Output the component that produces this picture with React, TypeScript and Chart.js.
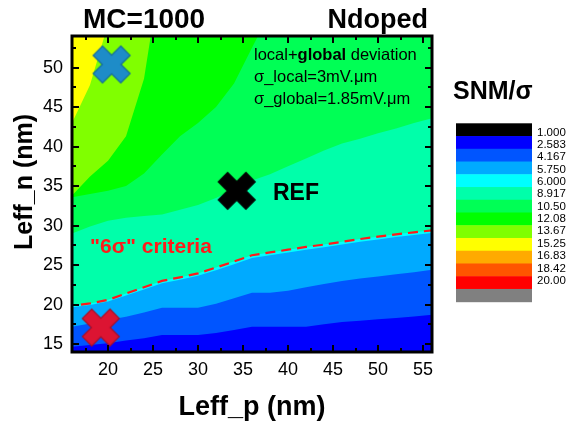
import React, { useEffect, useRef } from 'react';
import { Chart, registerables } from 'chart.js';

Chart.register(...registerables);

const FONT = '"Liberation Sans", Arial, Helvetica, sans-serif';

// Leff_p grid (nm)
const leffP = [16, 18, 20, 22, 24, 26, 28, 30, 32, 34, 36, 38, 40, 42, 44, 46, 48, 50, 52, 54, 56];

// Leff_n (nm) of each SNM/sigma contour level along the Leff_p grid (70 = above the plotted window)
const contour2583 = [14.65, 14.9, 15.1, 15.45, 15.75, 16.15, 16.15, 16.15, 16.4, 16.8, 17.2, 17.2, 17.2, 17.2, 17.5, 17.8, 17.95, 18.15, 18.3, 18.5, 18.7];
const contour4167 = [17.2, 17.6, 18.05, 18.45, 19.0, 19.6, 19.6, 19.6, 20.1, 20.8, 21.5, 21.5, 21.75, 22.2, 22.6, 23.0, 23.3, 23.55, 23.85, 24.1, 24.4];
const contour5750 = [19.65, 19.95, 20.4, 21.15, 21.9, 22.7, 23.15, 23.65, 24.35, 25.1, 25.9, 26.25, 26.6, 26.95, 27.25, 27.6, 27.95, 28.25, 28.55, 28.8, 29.05];
const contour6000 = [19.85, 20.15, 20.6, 21.4, 22.2, 23.0, 23.45, 23.95, 24.7, 25.45, 26.25, 26.6, 26.95, 27.3, 27.6, 27.95, 28.3, 28.6, 28.9, 29.15, 29.4];
const contour8917 = [29.0, 29.9, 30.6, 31.0, 31.2, 31.4, 32.0, 32.6, 33.5, 34.6, 35.7, 36.5, 37.5, 38.5, 39.5, 40.4, 41.0, 41.7, 42.3, 43.0, 43.6];
const contour1050 = [33.6, 34.0, 34.4, 35.0, 36.6, 39.0, 41.3, 43.0, 45.0, 48.0, 52.5, 57, 70, 70, 70, 70, 70, 70, 70, 70, 70];
const contour1208 = [33.8, 36.2, 38.2, 41.3, 48.6, 63, 70, 70, 70, 70, 70, 70, 70, 70, 70, 70, 70, 70, 70, 70, 70];
const contour1367 = [43.0, 47.8, 55.5, 62, 70, 70, 70, 70, 70, 70, 70, 70, 70, 70, 70, 70, 70, 70, 70, 70, 70];

// "6 sigma" criteria dashed line
const criteriaP = [17, 18, 20, 22, 24, 26, 28, 30, 32, 34, 36, 38, 40, 42, 44, 46, 48, 50, 52, 54, 56];
const criteriaN = [20.0, 20.15, 20.6, 21.4, 22.2, 23.0, 23.45, 23.95, 24.7, 25.45, 26.25, 26.6, 26.95, 27.3, 27.6, 27.95, 28.3, 28.6, 28.9, 29.15, 29.4];

// markers (blue, REF black, red)
const markerP = [20.4, 34.3, 19.2];
const markerN = [50.4, 34.4, 17.1];
const markerFill = ['#1E8CC8', '#000000', '#DC1432'];
const markerEdge = ['#136A99', '#000000', '#A80E26'];

const xTicks = [20, 25, 30, 35, 40, 45, 50, 55];
const yTicks = [15, 20, 25, 30, 35, 40, 45, 50];

const levelLabels = ['1.000', '2.583', '4.167', '5.750', '6.000', '8.917', '10.50', '12.08', '13.67', '15.25', '16.83', '18.42', '20.00'];
const levelColors = ['#000000', '#0000FF', '#0055FF', '#00AAFF', '#00FFFF', '#00FFAA', '#00FF55', '#00FF00', '#80FF00', '#FFFF00', '#FFAA00', '#FF5500', '#FF0000', '#808080'];

function makeCross(fill: string, edge: string): HTMLCanvasElement {
  const S = 44;
  const c = document.createElement('canvas');
  c.width = S;
  c.height = S;
  const g = c.getContext('2d')!;
  g.translate(S / 2, S / 2);
  g.rotate(Math.PI / 4);
  const L = 19.5;
  const w = 6.6;
  g.beginPath();
  g.moveTo(-w, -L); g.lineTo(w, -L); g.lineTo(w, -w); g.lineTo(L, -w); g.lineTo(L, w);
  g.lineTo(w, w); g.lineTo(w, L); g.lineTo(-w, L); g.lineTo(-w, w); g.lineTo(-L, w);
  g.lineTo(-L, -w); g.lineTo(-w, -w); g.closePath();
  g.fillStyle = fill;
  g.fill();
  g.lineWidth = 1.2;
  g.strokeStyle = edge;
  g.stroke();
  return c;
}

const decor = {
  id: 'decor',
  beforeDatasetsDraw(chart: any) {
    const { ctx, chartArea: a } = chart;
    ctx.save();
    ctx.fillStyle = levelColors[9];
    ctx.fillRect(a.left, a.top, a.right - a.left, a.bottom - a.top);
    ctx.restore();
  },
  afterDraw(chart: any) {
    const { ctx, chartArea: a, scales } = chart;
    const xs = scales.x;
    const ys = scales.y;
    ctx.save();
    ctx.strokeStyle = '#000';
    ctx.lineWidth = 2;
    const seg = (x1: number, y1: number, x2: number, y2: number) => {
      ctx.beginPath();
      ctx.moveTo(x1, y1);
      ctx.lineTo(x2, y2);
      ctx.stroke();
    };
    for (let v = 17.5; v < 56; v += 2.5) {
      const len = v % 5 === 0 ? 7 : 4;
      const px = Math.round(xs.getPixelForValue(v));
      seg(px, a.bottom, px, a.bottom - len);
      seg(px, a.top, px, a.top + len);
    }
    for (let v = 15; v < 54; v += 2.5) {
      const len = v % 5 === 0 ? 7 : 4;
      const py = Math.round(ys.getPixelForValue(v));
      seg(a.left, py, a.left + len, py);
      seg(a.right, py, a.right - len, py);
    }
    ctx.lineWidth = 3;
    ctx.strokeRect(a.left, a.top, a.right - a.left, a.bottom - a.top);

    // titles
    ctx.fillStyle = '#000';
    ctx.textBaseline = 'alphabetic';
    ctx.font = `bold 28px ${FONT}`;
    ctx.textAlign = 'left';
    ctx.fillText('MC=1000', 83, 28);
    ctx.font = `bold 27px ${FONT}`;
    ctx.textAlign = 'right';
    ctx.fillText('Ndoped', 428, 28);

    // in-plot notes
    ctx.textAlign = 'left';
    let x = 254;
    ctx.font = `16.5px ${FONT}`;
    ctx.fillText('local+', x, 60);
    x += ctx.measureText('local+').width;
    ctx.font = `bold 16.5px ${FONT}`;
    ctx.fillText('global', x, 60);
    x += ctx.measureText('global').width;
    ctx.font = `16.5px ${FONT}`;
    ctx.fillText(' deviation', x, 60);
    ctx.fillText('\u03c3_local=3mV.\u03bcm', 254, 82);
    ctx.fillText('\u03c3_global=1.85mV.\u03bcm', 254, 104);

    ctx.font = `bold 23px ${FONT}`;
    ctx.fillText('REF', 273, 200);

    ctx.fillStyle = '#FF1A1A';
    ctx.font = `bold 21px ${FONT}`;
    ctx.fillText('"6\u03c3" criteria', 90, 253);

    // axis titles
    ctx.fillStyle = '#000';
    ctx.font = `bold 27px ${FONT}`;
    ctx.textAlign = 'center';
    ctx.fillText('Leff_p (nm)', (a.left + a.right) / 2, 415);
    ctx.save();
    ctx.translate(32, 182);
    ctx.rotate(-Math.PI / 2);
    ctx.font = `bold 25px ${FONT}`;
    ctx.fillText('Leff_n (nm)', 0, 0);
    ctx.restore();

    // colour legend
    ctx.textAlign = 'left';
    ctx.font = `bold 25px ${FONT}`;
    ctx.fillText('SNM/\u03c3', 453, 99);
    const lx = 456;
    const lw = 76;
    const top = 123.3;
    const bh = (301.7 - 123.3) / levelColors.length;
    levelColors.forEach((c, i) => {
      ctx.fillStyle = c;
      ctx.fillRect(lx, top + i * bh, lw, bh + 0.5);
    });
    ctx.fillStyle = '#000';
    ctx.font = `11.5px ${FONT}`;
    ctx.textBaseline = 'middle';
    levelLabels.forEach((t, i) => {
      ctx.fillText(t, 537, 132.5 + i * 12.35);
    });
    ctx.restore();
  },
};

const contourBands: { y: number[]; color: string }[] = [
  { y: contour1367, color: levelColors[8] },
  { y: contour1208, color: levelColors[7] },
  { y: contour1050, color: levelColors[6] },
  { y: contour8917, color: levelColors[5] },
  { y: contour6000, color: levelColors[4] },
  { y: contour5750, color: levelColors[3] },
  { y: contour4167, color: levelColors[2] },
  { y: contour2583, color: levelColors[1] },
];

export default function App() {
  const ref = useRef<HTMLCanvasElement>(null);
  useEffect(() => {
    const canvas = ref.current!;
    const datasets: any[] = contourBands.map((b, i) => ({
      data: leffP.map((p, k) => ({ x: p, y: b.y[k] })),
      borderWidth: 0,
      borderColor: 'rgba(0,0,0,0)',
      backgroundColor: b.color,
      fill: 'start',
      pointRadius: 0,
      tension: 0,
      order: 100 - i * 10,
    }));
    datasets.push({
      data: criteriaP.map((p, k) => ({ x: p, y: criteriaN[k] })),
      borderColor: '#FF1A1A',
      borderWidth: 2.2,
      borderDash: [10, 6],
      fill: false,
      pointRadius: 0,
      tension: 0,
      order: 5,
    });
    datasets.push({
      data: markerP.map((p, k) => ({ x: p, y: markerN[k] })),
      showLine: false,
      pointStyle: markerFill.map((f, k) => makeCross(f, markerEdge[k])),
      pointRadius: 18,
      fill: false,
      order: 1,
    });
    const chart = new Chart(canvas, {
      type: 'line',
      data: { datasets },
      options: {
        responsive: false,
        devicePixelRatio: 1,
        animation: false,
        events: [],
        layout: { padding: { left: 0, top: 36, right: 143, bottom: 0 } },
        plugins: { legend: { display: false }, tooltip: { enabled: false } },
        scales: {
          x: {
            type: 'linear',
            min: 16,
            max: 56,
            grid: { display: false, drawTicks: false },
            border: { display: false },
            ticks: { color: '#000', font: { family: FONT, size: 18 }, padding: 7, maxRotation: 0 },
            afterBuildTicks: (s: any) => { s.ticks = xTicks.map((v) => ({ value: v })); },
            afterFit: (s: any) => { s.height = 73; },
          },
          y: {
            type: 'linear',
            min: 14,
            max: 54,
            grid: { display: false, drawTicks: false },
            border: { display: false },
            ticks: { color: '#000', font: { family: FONT, size: 18 }, padding: 9 },
            afterBuildTicks: (s: any) => { s.ticks = yTicks.map((v) => ({ value: v })); },
            afterFit: (s: any) => { s.width = 72; },
          },
        },
      } as any,
      plugins: [decor],
    });
    return () => chart.destroy();
  }, []);
  return (
    <div style={{ position: 'absolute', left: 0, top: 0, width: 575, height: 425, background: '#fff' }}>
      <canvas ref={ref} width={575} height={425} style={{ display: 'block' }} />
    </div>
  );
}
